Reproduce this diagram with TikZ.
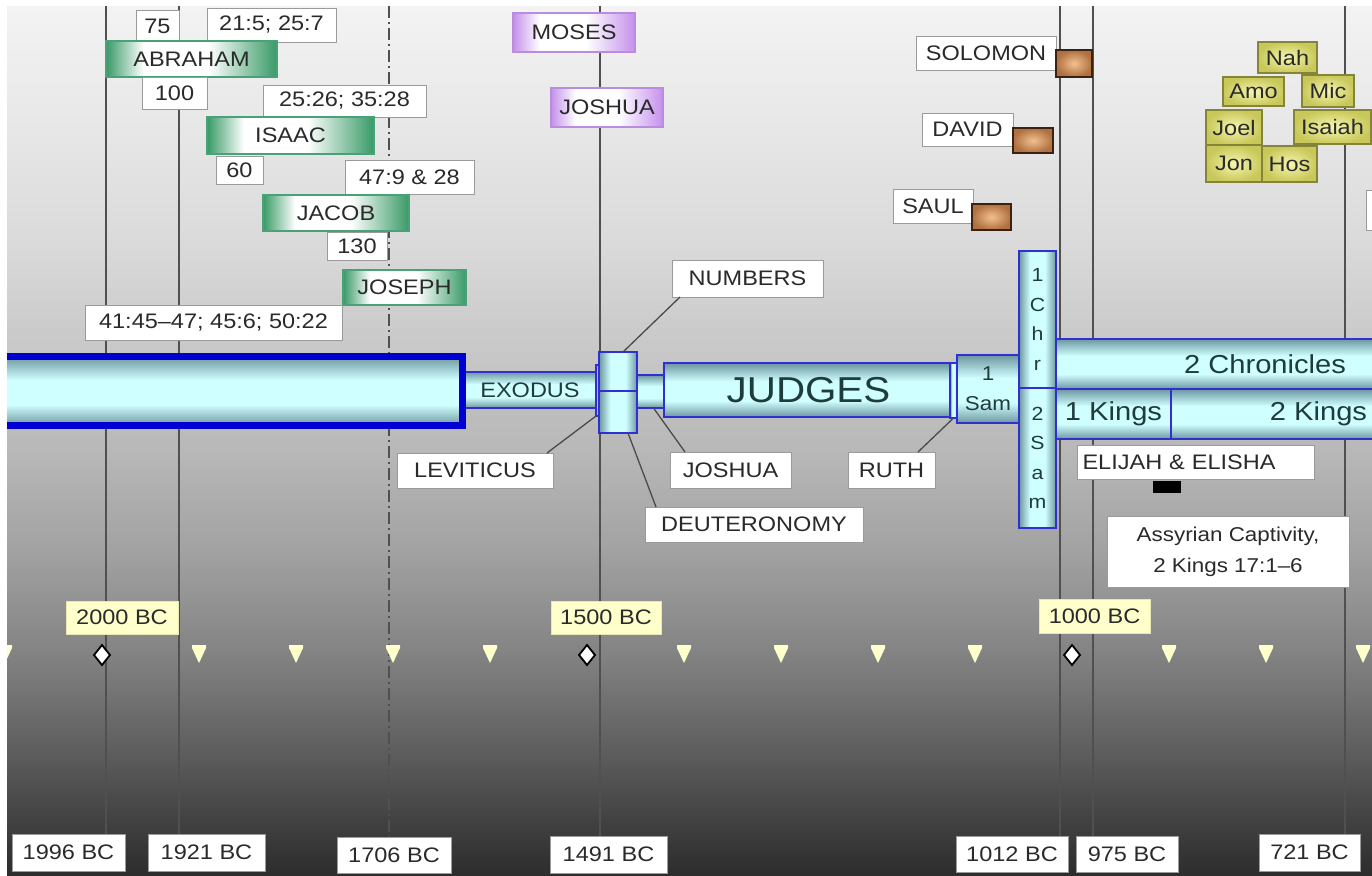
\documentclass[tikz,border=0pt]{standalone}
\usepackage{fontspec}
\setmainfont{Liberation Sans}[FakeStretch=1.12]
\usetikzlibrary{shapes.geometric}

\definecolor{txt}{HTML}{2A2A2A}
\definecolor{wborder}{HTML}{9A9A9A}
\definecolor{ylab}{HTML}{FFFFCC}
\definecolor{ylabb}{HTML}{E8E8B0}
\definecolor{gdark}{HTML}{389A66}
\definecolor{gborder}{HTML}{4AA077}
\definecolor{pdark}{HTML}{C490EC}
\definecolor{pborder}{HTML}{B98CE0}
\definecolor{yl}{HTML}{F6F6B0}
\definecolor{yd}{HTML}{C8C85A}
\definecolor{yb}{HTML}{85853A}
\definecolor{brl}{HTML}{F2C090}
\definecolor{brd}{HTML}{B07040}
\definecolor{brb}{HTML}{3A2212}
\definecolor{bblue}{HTML}{3030D0}
\definecolor{gblue}{HTML}{0000D0}
\definecolor{bdark}{HTML}{6C96A0}
\definecolor{blight}{HTML}{D0FFFF}
\definecolor{bartxt}{HTML}{1F3C3C}
\definecolor{ldr}{HTML}{4A4A4A}
\definecolor{vl}{HTML}{505050}
\definecolor{levfill}{HTML}{E6F4FF}
\definecolor{bgA}{HTML}{2D2D2D}
\definecolor{bgB}{HTML}{363636}
\definecolor{bgC}{HTML}{5E5E5E}
\definecolor{bgD}{HTML}{848484}
\definecolor{bgE}{HTML}{A2A2A2}
\definecolor{bgF}{HTML}{B8B8B8}
\definecolor{bgG}{HTML}{CBCBCB}
\definecolor{bgH}{HTML}{D9D9D9}
\definecolor{bgI}{HTML}{E7E7E7}
\definecolor{bgJ}{HTML}{F3F3F3}

\pgfdeclareverticalshading{bgsh}{1365pt}{color(0pt)=(bgA); color(25pt)=(bgB); color(125pt)=(bgC); color(225pt)=(bgD); color(325pt)=(bgE); color(425pt)=(bgF); color(545pt)=(bgG); color(625pt)=(bgH); color(745pt)=(bgI); color(869pt)=(bgJ)}
\pgfdeclareverticalshading{barsh}{100bp}{color(0bp)=(bdark); color(25bp)=(bdark); color(40bp)=(blight); color(58bp)=(blight); color(75bp)=(bdark); color(100bp)=(bdark)}
\pgfdeclarehorizontalshading{barshh}{100bp}{color(0bp)=(bdark); color(25bp)=(bdark); color(40bp)=(blight); color(60bp)=(blight); color(75bp)=(bdark); color(100bp)=(bdark)}
\pgfdeclarehorizontalshading{greensh}{100bp}{color(0bp)=(gdark); color(25bp)=(gdark); color(36bp)=(white); color(55bp)=(white); color(75bp)=(gdark); color(100bp)=(gdark)}
\pgfdeclarehorizontalshading{purpsh}{100bp}{color(0bp)=(pdark); color(25bp)=(pdark); color(36bp)=(white); color(55bp)=(white); color(75bp)=(pdark); color(100bp)=(pdark)}

\newcommand\fs[1]{\fontsize{#1}{#1}\selectfont}
\newcommand\bx[7]{\node[#1, minimum width={#5-#3}, minimum height={#6-#4}] (#2) at ({(#3+#5)/2},{(#4+#6)/2}) {#7};}

\begin{document}
\begin{tikzpicture}[x=1pt,y=-1pt,
  every node/.style={inner sep=1pt, outer sep=0pt},
  txtbase/.style={text=txt, font=\fs{21}},
  wbox/.style={txtbase, fill=white, draw=wborder, line width=0.8},
  ybox/.style={txtbase, fill=ylab, draw=ylabb, line width=0.5},
  gbox/.style={txtbase, shade, shading=greensh, draw=gborder, line width=1.3},
  pbox/.style={txtbase, shade, shading=purpsh, draw=pborder, line width=1.3},
  prbox/.style={txtbase, inner color=yl, outer color=yd, draw=yb, line width=1.3},
  brbox/.style={inner color=brl, outer color=brd, draw=brb, line width=2.5},
  bar/.style={shade, shading=barsh, draw=bblue, line width=2, text=bartxt, font=\fs{21}},
  vbar/.style={shade, shading=barshh, draw=bblue, line width=2, text=bartxt, align=center, font=\fontsize{19}{29.5}\selectfont},
  leader/.style={draw=ldr, line width=1.3},
  vline/.style={draw=vl, line width=1.3},
  dia/.style={diamond, draw=black, fill=white, line width=1.8, minimum width=16, minimum height=20, inner sep=0pt},
  tri/.style={fill=ylab}
]
\useasboundingbox (0,0) rectangle (1372,875);
\fill[white] (0,0) rectangle (1372,875);
\node[inner sep=0pt, outer sep=0pt, anchor=north west] (bg) at (7,6) {\pgfuseshading{bgsh}};

\begin{scope}
\clip (7,6) rectangle (1372,875);

% bottom year labels
\bx{wbox}{b1996}{12}{834}{125}{871}{1996 BC}
\bx{wbox}{b1921}{148}{834}{265}{871}{1921 BC}
\bx{wbox}{b1706}{337}{837}{451}{873}{1706 BC}
\bx{wbox}{b1491}{550}{836}{667}{873}{1491 BC}
\bx{wbox}{b1012}{956}{836}{1068}{872}{1012 BC}
\bx{wbox}{b975}{1076}{836}{1178}{872}{975 BC}
\bx{wbox}{b721}{1259}{834}{1360}{871}{721 BC}

% vertical time lines
\coordinate (t1996) at (106,6);
\coordinate (t1921) at (179,6);
\coordinate (t1706) at (389,6);
\coordinate (t1491) at (600,6);
\coordinate (t1012) at (1060,6);
\coordinate (t975) at (1093,6);
\coordinate (t721) at (1345,6);
\draw[vline] (t1996) -- (t1996 |- b1996.north);
\draw[vline] (t1921) -- (t1921 |- b1921.north);
\draw[vline, dash pattern=on 12pt off 4pt on 2pt off 4pt] (t1706) -- (t1706 |- b1706.north);
\draw[vline] (t1491) -- (t1491 |- b1491.north);
\draw[vline] (t1012) -- (t1012 |- b1012.north);
\draw[vline] (t975) -- (t975 |- b975.north);
\draw[vline] (t721) -- (t721 |- b721.north);

% patriarchs
\bx{wbox}{l75}{136}{10}{179}{42}{75}
\bx{wbox}{l215}{207}{8}{336}{42}{21:5; 25:7}
\bx{gbox}{abraham}{106}{41}{277}{77}{ABRAHAM}
\bx{wbox}{l100}{142}{77}{207}{109}{100}
\bx{wbox}{l2526}{263}{85}{426}{117}{25:26; 35:28}
\bx{gbox}{isaac}{207}{117}{374}{154}{ISAAC}
\bx{wbox}{l60}{216}{156}{263}{184}{60}
\bx{wbox}{l479}{345}{160}{474}{194}{47:9 \& 28}
\bx{gbox}{jacob}{263}{195}{409}{231}{JACOB}
\bx{wbox}{l130}{327}{232}{387}{260}{130}
\bx{gbox}{joseph}{343}{270}{466}{305}{JOSEPH}
\bx{wbox}{l4145}{85}{305}{342}{340}{41:45–47; 45:6; 50:22}

% Moses, Joshua
\bx{pbox}{moses}{513}{13}{635}{52}{MOSES}
\bx{pbox}{joshuap}{551}{88}{663}{127}{JOSHUA}

% kings
\bx{wbox}{solomon}{916}{36}{1056}{70}{SOLOMON}
\bx{brbox}{solb}{1056}{50}{1092}{77}{}
\bx{wbox}{david}{922}{113}{1013}{146}{DAVID}
\bx{brbox}{davb}{1013}{128}{1053}{153}{}
\bx{wbox}{saul}{893}{189}{973}{223}{SAUL}
\bx{brbox}{saulb}{972}{204}{1011}{230}{}

% prophets
\bx{prbox}{nah}{1258}{42}{1317}{73}{Nah}
\bx{prbox}{amo}{1223}{77}{1284}{106}{Amo}
\bx{prbox}{mic}{1302}{75}{1354}{107}{Mic}
\bx{prbox}{joel}{1206}{110}{1262}{145}{Joel}
\bx{prbox}{isaiah}{1294}{110}{1371}{144}{Isaiah}
\bx{prbox}{jon}{1206}{145}{1262}{182}{Jon}
\bx{prbox}{hos}{1262}{146}{1317}{182}{Hos}
\bx{wbox}{edgebox}{1366}{190}{1390}{230}{}

% book bars
\bx{bar}{exo}{463}{372}{597}{408}{EXODUS}
\bx{bar, line width=7, draw=gblue}{gen}{-10}{356.5}{462.5}{425.5}{}
\bx{bar, shading=barshh, fill=levfill, line width=1.5}{lev}{596}{365}{603}{416}{}
\bx{bar, shading=barshh}{ndn}{599}{352}{637}{391}{}
\bx{bar, shading=barshh}{ndd}{599}{391}{637}{433}{}
\bx{bar}{josb}{637}{375}{664}{408}{}
\bx{bar, font=\fs{36}}{judges}{664}{363}{953}{417}{JUDGES}
\bx{bar, shading=barshh, line width=1.5}{ruthb}{950}{363}{957}{418}{}
\bx{bar, align=center, font=\fontsize{20}{30}\selectfont}{sam1}{957}{355}{1019}{423}{1\\Sam}
\bx{bar, font=\fs{26}}{chr2}{1056}{339}{1474}{389}{2 Chronicles}
\bx{bar, font=\fs{26}}{kings1}{1056}{389}{1171}{439}{1 Kings}
\bx{bar, font=\fs{26}}{kings2}{1171}{389}{1466}{439}{2 Kings}
\bx{vbar}{chr1}{1019}{251}{1056}{388}{1\\C\\h\\r}
\bx{vbar}{sam2}{1019}{388}{1056}{528}{2\\S\\a\\m}

% book labels
\bx{wbox}{numbers}{672}{260}{823}{297}{NUMBERS}
\bx{wbox}{levl}{397}{453}{553}{488}{LEVITICUS}
\bx{wbox}{joshl}{670}{452}{791}{488}{JOSHUA}
\bx{wbox}{deut}{645}{507}{863}{542}{DEUTERONOMY}
\bx{wbox}{ruthl}{848}{452}{935}{488}{RUTH}
\bx{wbox, text width=226pt, align=left, inner xsep=5pt}{elijah}{1077}{445}{1314}{479}{ELIJAH \& ELISHA}
\bx{fill=black}{elib}{1153}{481}{1181}{493}{}
\bx{wbox, align=center, font=\fontsize{20}{31}\selectfont}{assyr}{1107}{516}{1349}{587}{Assyrian Captivity,\\2 Kings 17:1–6}

% leaders
\draw[leader] ([xshift=8pt]numbers.south west) -- ([xshift=5pt]ndn.north);
\draw[leader] (lev.south west) -- ([xshift=-6pt]levl.north east);
\draw[leader] ([xshift=3pt]josb.south) -- ([xshift=15pt]joshl.north west);
\draw[leader] ([xshift=10pt]ndd.south) -- ([xshift=11pt]deut.north west);
\draw[leader] (ruthb.south) -- ([xshift=-17pt]ruthl.north east);

% time axis
\bx{ybox}{y2000}{66}{601}{178}{634}{2000 BC}
\bx{ybox}{y1500}{551}{601}{661}{634}{1500 BC}
\bx{ybox}{y1000}{1039}{599}{1150}{633}{1000 BC}
\node[dia] (d2000) at (102,655) {};
\node[dia] (d1500) at (587,655) {};
\node[dia] (d1000) at (1072,655) {};
\foreach \k in {-1,1,2,3,4,6,7,8,9,11,12,13}{
  \pgfmathsetmacro\xx{102+97*\k}
  \fill[tri] (\xx-7,645) -- (\xx+7,645) -- (\xx+7,648) -- (\xx,663) -- (\xx-7,648) -- cycle;
}
\end{scope}
\end{tikzpicture}
\end{document}
